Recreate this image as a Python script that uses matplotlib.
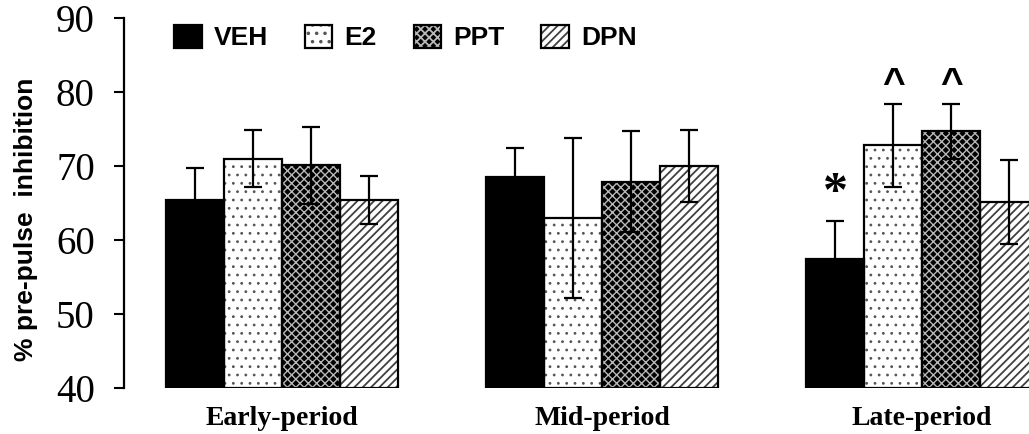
import matplotlib
matplotlib.use("Agg")
import matplotlib.pyplot as plt
import numpy as np
from matplotlib.legend_handler import HandlerTuple

periods = ["Early-period", "Mid-period", "Late-period"]
groups = ["VEH", "E2", "PPT", "DPN"]

veh = [65.4, 68.5, 57.4]
e2 = [71.0, 63.0, 72.8]
ppt = [70.1, 67.9, 74.7]
dpn = [65.4, 70.0, 65.1]

veh_err = [4.3, 4.0, 5.2]
e2_err = [3.8, 10.8, 5.6]
ppt_err = [5.2, 6.8, 3.7]
dpn_err = [3.2, 4.8, 5.7]

# late-period marks: * vs VEH, ^ for E2 and PPT
star_groups = ["VEH"]
caret_groups = ["E2", "PPT"]

means = [veh, e2, ppt, dpn]
errs = [veh_err, e2_err, ppt_err, dpn_err]

# fill, hatch, hatch colour, hatch width
styles = [
    ("black", "", "black", 1.0),
    ("white", "..", "#555555", 0.8),
    ("black", "xxxx", "#b8b8b8", 1.0),
    ("white", "////", "#404040", 1.3),
]

fig = plt.figure(figsize=(10.29, 4.34), dpi=100)
ax = fig.add_axes([124 / 1029, 1 - 388 / 434, 1 - 124 / 1029, (388 - 18) / 434])

x = np.arange(len(periods))
w = 58 / 320
handles = []
for i, (m, e) in enumerate(zip(means, errs)):
    fc, hatch, hc, hlw = styles[i]
    plt.rcParams["hatch.linewidth"] = hlw
    pos = x + (i - 1.5) * w
    fill = ax.bar(pos, np.array(m) - 40, w, bottom=40, color=fc, hatch=hatch,
                  edgecolor=hc, linewidth=0, zorder=2)
    edge = ax.bar(pos, np.array(m) - 40, w, bottom=40, fill=False,
                  edgecolor="black", linewidth=1.6, zorder=2.1)
    ax.errorbar(pos, m, yerr=e, fmt="none", ecolor="black", elinewidth=1.6,
                capsize=6.5, capthick=1.6, zorder=3)
    handles.append((fill[0], edge[0]))

late = len(periods) - 1
for g in star_groups:
    i = groups.index(g)
    ax.text(x[late] + (i - 1.5) * w, means[i][late] + errs[i][late] + 2.0, "*",
            ha="center", va="baseline", fontsize=36, fontweight="bold",
            family="Liberation Serif")
for g in caret_groups:
    i = groups.index(g)
    ax.text(x[late] + (i - 1.5) * w, means[i][late] + errs[i][late] + 1.2, "^",
            ha="center", va="baseline", fontsize=28, fontweight="bold",
            family="Liberation Sans")

ax.set_xlim(-0.494, 2.334)
ax.set_ylim(40, 90)
ax.set_yticks([40, 50, 60, 70, 80, 90])
for lab in ax.get_yticklabels():
    lab.set_family("Liberation Serif")
    lab.set_fontsize(28)
ax.tick_params(axis="y", direction="out", length=7, width=1.5, pad=14)

ax.set_xticks(x)
ax.set_xticklabels(periods, family="Liberation Serif", fontweight="bold", fontsize=20)
ax.tick_params(axis="x", length=0, pad=13)

for s in ["top", "right", "bottom"]:
    ax.spines[s].set_visible(False)
ax.spines["left"].set_linewidth(1.6)

ax.set_ylabel("% pre-pulse  inhibition", family="Liberation Sans", fontweight="bold",
              fontsize=19)
ax.yaxis.set_label_coords(-86 / 905, 0.457)

fig.legend(handles, groups, loc="upper left", bbox_to_anchor=(174 / 1029, 1 - 25 / 434),
           ncol=4, frameon=False, handler_map={tuple: HandlerTuple(ndivide=1, pad=0)},
           prop={"family": "Liberation Sans", "weight": "bold", "size": 19},
           handlelength=1.05, handleheight=0.95, handletextpad=0.45, columnspacing=1.4,
           borderpad=0, borderaxespad=0)

fig.savefig("out.png", dpi=100)
